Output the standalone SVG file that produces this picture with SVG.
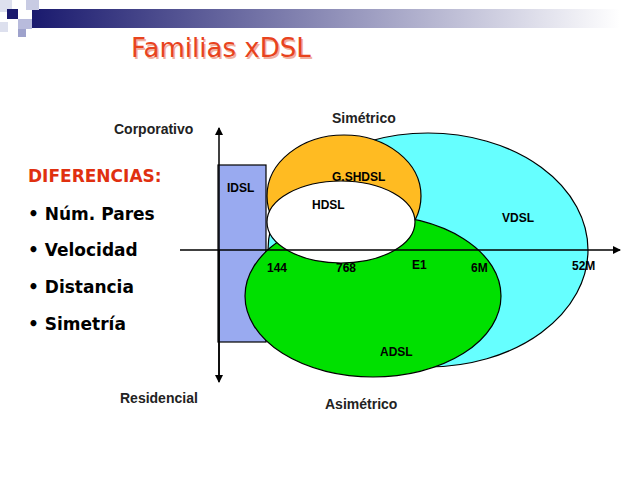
<svg xmlns="http://www.w3.org/2000/svg" width="640" height="480" viewBox="0 0 640 480">
<style>
.l{font-family:"Liberation Sans",Arial,sans-serif;font-weight:bold;font-size:12px;fill:#000}
.a{font-family:"Liberation Sans",Arial,sans-serif;font-weight:bold;font-size:14px;fill:#222}
.b{font-family:"DejaVu Sans","Liberation Sans",sans-serif;font-weight:bold;font-size:17px;fill:#000}
.t{font-family:"DejaVu Sans","Liberation Sans",sans-serif;font-size:26px}
.s{stroke:#000;stroke-width:1.2}
</style>
<defs>
<linearGradient id="g" x1="0" x2="1"><stop offset="0" stop-color="#1a1a6e"/><stop offset="1" stop-color="#fff"/></linearGradient>
<marker id="ar" markerWidth="8" markerHeight="8" refX="7" refY="4" orient="auto" markerUnits="userSpaceOnUse"><path d="M0,0L8,4L0,8z" fill="#000"/></marker>
</defs>
<rect width="640" height="480" fill="#fff"/>
<g id="deco">
<rect x="32" y="9" width="588" height="19" fill="url(#g)"/>
<rect x="0" y="0" width="12" height="12" fill="#dde0ee"/>
<rect x="7" y="9" width="11" height="10" fill="#1a1a6e"/>
<rect x="26" y="0" width="13" height="10" fill="#c8cbe3"/>
<rect x="18" y="19" width="14" height="10" fill="#b8bbdc"/>
<rect x="0" y="22" width="8" height="10" fill="#dde0ee"/>
<rect x="18" y="29" width="8" height="8" fill="#9ea2cc"/>
</g>
<text x="131" y="57" class="t" fill="#f0b0a0" transform="translate(1.5,1.5)">Familias xDSL</text>
<text x="131" y="57" class="t" fill="#e8431e">Familias xDSL</text>
<g id="list">
<text x="28" y="182" class="b" style="fill:#e03010">DIFERENCIAS:</text>
<text x="28" y="220" class="b">• Núm. Pares</text>
<text x="28" y="256" class="b">• Velocidad</text>
<text x="28" y="293" class="b">• Distancia</text>
<text x="28" y="330" class="b">• Simetría</text>
</g>
<g id="VDSL"><ellipse cx="428" cy="250" rx="160" ry="117" fill="#66ffff" class="s"/><text x="502" y="222" class="l">VDSL</text></g>
<g id="IDSL"><rect x="218" y="165" width="48" height="177" fill="#99aaf0" class="s"/><text x="227" y="192" class="l">IDSL</text></g>
<g id="GSHDSL"><ellipse cx="344" cy="196" rx="77" ry="61" fill="#ffbb22" class="s"/><text x="332" y="181" class="l">G.SHDSL</text></g>
<g id="ADSL"><ellipse cx="373" cy="296" rx="128" ry="81" fill="#00e000" class="s"/><text x="380" y="356" class="l">ADSL</text></g>
<g id="HDSL"><ellipse cx="341" cy="222" rx="74" ry="41" fill="#fff" class="s"/><text x="312" y="209" class="l">HDSL</text></g>
<g id="connectors">
<line x1="219" y1="380" x2="219" y2="128" stroke="#000" stroke-width="1.5" marker-end="url(#ar)"/>
<line x1="219" y1="250" x2="219" y2="382" stroke="#000" stroke-width="1.5" marker-end="url(#ar)"/>
<line x1="180" y1="250" x2="620" y2="250" stroke="#000" stroke-width="1.5" marker-end="url(#ar)"/>
</g>
<g id="ticks">
<text x="267" y="272" class="l">144</text>
<text x="336" y="272" class="l">768</text>
<text x="412" y="269" class="l">E1</text>
<text x="471" y="272" class="l">6M</text>
<text x="572" y="270" class="l">52M</text>
</g>
<text x="114" y="134" class="a">Corporativo</text>
<text x="332" y="123" class="a">Simétrico</text>
<text x="120" y="403" class="a">Residencial</text>
<text x="325" y="409" class="a">Asimétrico</text>
</svg>
